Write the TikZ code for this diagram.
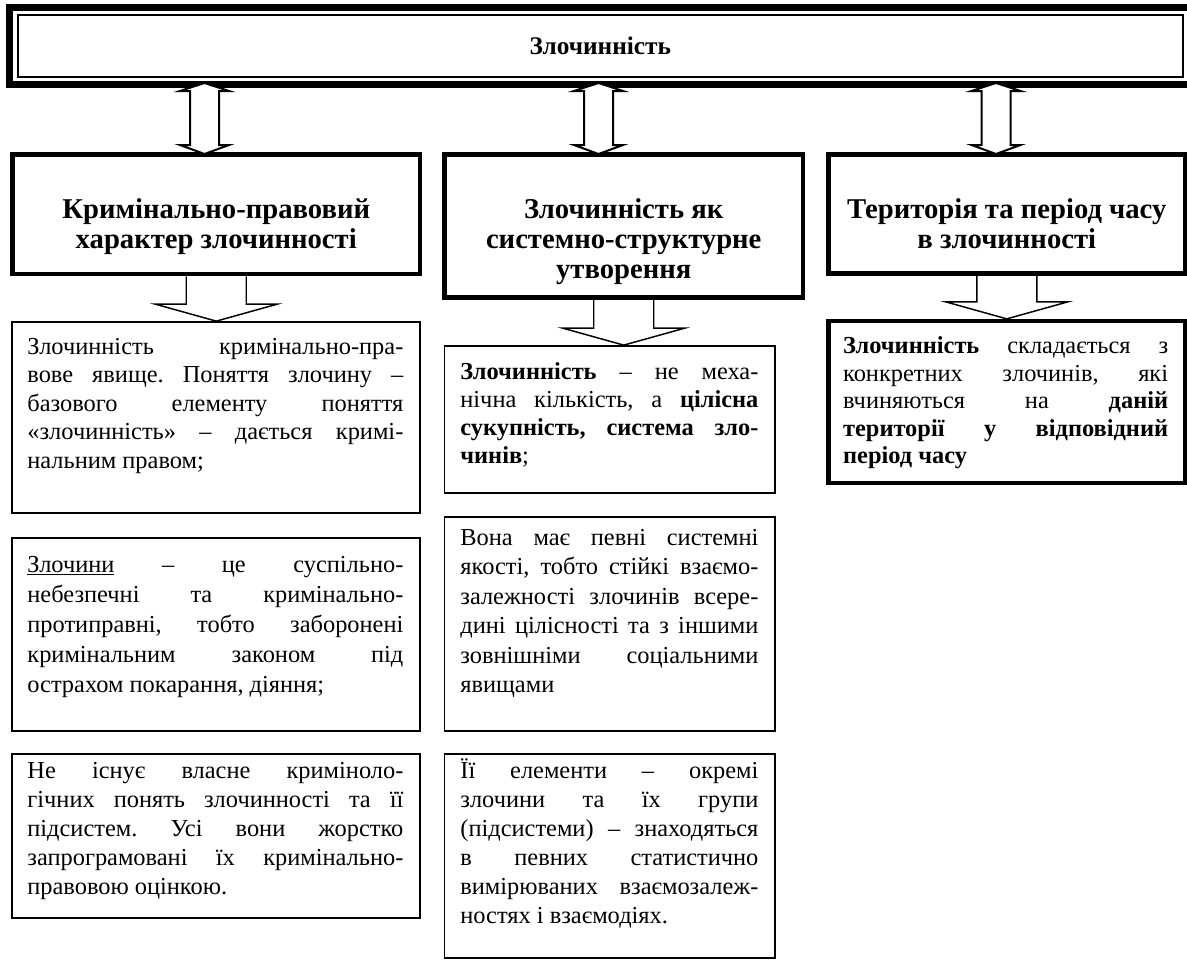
\documentclass[tikz,border=0pt]{standalone}
\usepackage{fontspec}
\setmainfont{Liberation Serif}
\usetikzlibrary{fit,calc}
\frenchspacing
\newcommand\jline[1]{\hbox to\hsize{#1}}
\newcommand\lline[1]{\hbox{#1}}
\newcommand\ctrlines[1]{\vtop{\baselineskip=22.5pt\halign{\hfil##\hfil\cr#1\crcr}}}
\begin{document}
\begin{tikzpicture}[x=0.75pt,y=-0.75pt,
  hdr/.style={draw, line width=3.4pt, inner sep=0},
  tbox/.style={draw, line width=1.3pt, inner sep=0},
  tboxb/.style={draw, line width=3.2pt, inner sep=0},
  hdrtext/.style={font=\fontsize{21.5}{22.5}\selectfont\bfseries, inner sep=0, anchor=base},
  body/.style={font=\fontsize{18.3}{21.75}\selectfont\frenchspacing, inner sep=0, anchor=base west},
  dbl/.style={draw, fill=white, line width=1.5pt, line join=miter},
  dn/.style={draw, line width=1.1pt, line join=miter}]
\fill[white] (0,0) rectangle (1187,967);
\useasboundingbox (0,0) rectangle (1187,967);
% title frame
\node[draw, line width=5.25pt, inner sep=0, fit={(9.5,7.5)(1210,84.5)}] (frame) {};
\node[draw, line width=1.5pt, inner sep=0, fit={(17.5,15)(1183,77)}] (title) {};
\node[font=\fontsize{19}{22}\selectfont\bfseries, inner sep=0] (titletext) at (title.center) {Злочинність};
% header boxes
\node[hdr, fit={(12.5,154.5)(420,274)}] (hl) {};
\node[hdr, fit={(444.5,154.5)(803,297.5)}] (hm) {};
\node[hdr, fit={(828.5,154.5)(1185,273.5)}] (hr) {};
\node[hdrtext] (hlt) at ($(hl.north)+(0,66)$) {\ctrlines{Кримінально-правовий\cr характер злочинності}};
\node[hdrtext] (hmt) at ($(hm.north)+(0,66)$) {\ctrlines{Злочинність як\cr системно-структурне\cr утворення}};
\node[hdrtext] (hrt) at ($(hr.north)+(0,66)$) {\ctrlines{Територія та період часу\cr в злочинності}};
% double arrows
\coordinate (d1) at (204.5,83);
\coordinate (d2) at (598.5,83);
\coordinate (d3) at (996,83);
\foreach \d in {d1,d2,d3}{
  \draw[dbl] (\d) -- ++(24.5,8) -- ++(-10,0) -- ++(0,54) -- ++(10,0) -- ++(-24.5,9) -- ++(-24.5,-9) -- ++(10,0) -- ++(0,-54) -- ++(-10,0) -- cycle;
}
% text boxes
\node[tbox, fit={(12,322)(420,513)}] (l1) {};
\node[tbox, fit={(12,538)(420,731)}] (l2) {};
\node[tbox, fit={(12,754)(420,918)}] (l3) {};
\node[tbox, fit={(444.5,346)(775,493)}] (m1) {};
\node[tbox, fit={(444.5,517)(775,731)}] (m2) {};
\node[tbox, fit={(444.5,754)(775,958)}] (m3) {};
\node[tboxb, fit={(828.5,321)(1185,483)}] (r1) {};
% down arrows
\coordinate (tl) at (hl.south |- l1.north);
\coordinate (tm) at (hm.south |- m1.north);
\coordinate (tr) at (hr.south |- r1.north);
\coordinate (tls) at ($(tl)+(-30,0)$);
\coordinate (trs) at ($(tl)+(30,0)$);
\coordinate (tmls) at ($(tm)+(-30,0)$);
\coordinate (tmrs) at ($(tm)+(30,0)$);
\coordinate (trls) at ($(tr)+(-30,0)$);
\coordinate (trrs) at ($(tr)+(30,0)$);
\draw[dn] (tls |- hl.south) -- ($(tl)+(-30,-17)$) -- ($(tl)+(-61,-17)$) -- (tl) -- ($(tl)+(61,-17)$) -- ($(tl)+(30,-17)$) -- (trs |- hl.south);
\draw[dn] (tmls |- hm.south) -- ($(tm)+(-30,-17)$) -- ($(tm)+(-61,-17)$) -- (tm) -- ($(tm)+(61,-17)$) -- ($(tm)+(30,-17)$) -- (tmrs |- hm.south);
\draw[dn] (trls |- hr.south) -- ($(tr)+(-30,-17)$) -- ($(tr)+(-61,-17)$) -- (tr) -- ($(tr)+(61,-17)$) -- ($(tr)+(30,-17)$) -- (trrs |- hr.south);
% texts
\node[body] (l1t) at ($(l1.north west)+(16,33)$) {\vtop{\hsize=282pt\baselineskip=21.375pt
\jline{Злочинність кримінально-пра-}
\jline{вове явище. Поняття злочину –}
\jline{базового елементу поняття}
\jline{«злочинність» – дається кримі-}
\lline{нальним правом;}}};
\node[body] (l2t) at ($(l2.north west)+(16,35)$) {\vtop{\hsize=282pt\baselineskip=22.5pt
\jline{\underline{Злочини} – це суспільно-}
\jline{небезпечні та кримінально-}
\jline{протиправні, тобто заборонені}
\jline{кримінальним законом під}
\lline{острахом покарання, діяння;}}};
\node[body] (l3t) at ($(l3.north west)+(16,25)$) {\vtop{\hsize=282pt\baselineskip=21.75pt
\jline{Не існує власне криміноло-}
\jline{гічних понять злочинності та її}
\jline{підсистем. Усі вони жорстко}
\jline{запрограмовані їх кримінально-}
\lline{правовою оцінкою.}}};
\node[body] (m1t) at ($(m1.north west)+(16.5,34)$) {\vtop{\hsize=223.5pt\baselineskip=21pt
\jline{\textbf{Злочинність} – не меха-}
\jline{нічна кількість, а \textbf{цілісна}}
\jline{\textbf{сукупність, система зло-}}
\lline{\textbf{чинів};}}};
\node[body] (m2t) at ($(m2.north west)+(16.5,29)$) {\vtop{\hsize=223.5pt\baselineskip=22.125pt
\jline{Вона має певні системні}
\jline{якості, тобто стійкі взаємо-}
\jline{залежності злочинів всере-}
\jline{дині цілісності та з іншими}
\jline{зовнішніми соціальними}
\lline{явищами}}};
\node[body] (m3t) at ($(m3.north west)+(16.5,25)$) {\vtop{\hsize=223.5pt\baselineskip=21.75pt
\jline{Її елементи – окремі}
\jline{злочини та їх групи}
\jline{(підсистеми) – знаходяться}
\jline{в певних статистично}
\jline{вимірюваних взаємозалеж-}
\lline{ностях і взаємодіях.}}};
\node[body] (r1t) at ($(r1.north west)+(16.5,35)$) {\vtop{\hsize=243.75pt\baselineskip=20.625pt
\jline{\textbf{Злочинність} складається з}
\jline{конкретних злочинів, які}
\jline{вчиняються на \textbf{даній}}
\jline{\textbf{території у відповідний}}
\lline{\textbf{період часу}}}};
\end{tikzpicture}
\end{document}
